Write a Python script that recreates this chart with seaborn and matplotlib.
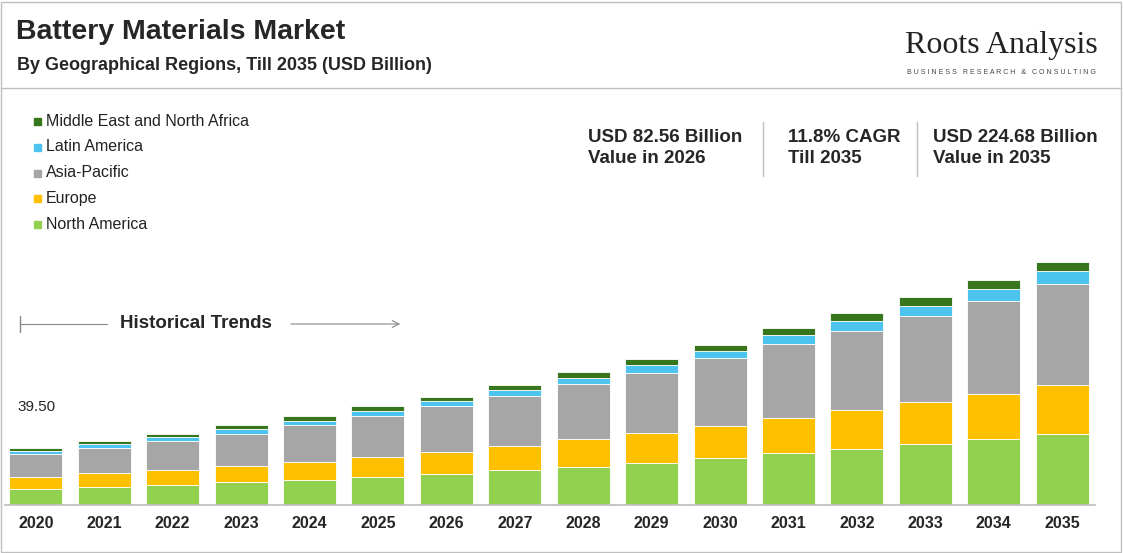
import numpy as np
import pandas as pd
import matplotlib
matplotlib.use("Agg")
import matplotlib.pyplot as plt
import seaborn as sns

years = [str(y) for y in range(2020, 2036)]
# segment values (USD Billion)
north_america = [14.8, 16.6, 18.5, 21.3, 23.1, 25.9, 28.7, 32.4, 35.1, 38.8, 43.5, 48.1, 51.8, 56.4, 61.0, 65.6]
europe = [11.1, 12.9, 13.9, 14.8, 16.6, 18.5, 20.3, 22.2, 25.9, 27.7, 29.6, 32.4, 36.1, 38.8, 41.6, 45.3]
asia_pacific = [21.3, 23.1, 26.8, 29.6, 34.2, 37.9, 42.5, 46.2, 50.9, 55.5, 62.9, 68.4, 73.0, 79.5, 86.0, 93.4]
latin_america = [2.8, 3.7, 3.7, 4.6, 3.7, 4.6, 4.6, 5.5, 5.5, 7.4, 6.5, 8.3, 9.2, 9.2, 11.1, 12.0]
mena = [2.8, 2.8, 2.8, 3.7, 4.6, 4.6, 3.7, 4.6, 5.5, 5.5, 5.5, 6.5, 7.4, 8.3, 8.3, 8.3]

series = [("North America", north_america, "#92d050"),
          ("Europe", europe, "#ffc000"),
          ("Asia-Pacific", asia_pacific, "#a6a6a6"),
          ("Latin America", latin_america, "#4dc3f0"),
          ("Middle East and North Africa", mena, "#38761d")]

sns.set_theme(style="white")
plt.rcParams['font.family'] = ['Liberation Sans', 'DejaVu Sans']

W, H = 1123, 553
fig = plt.figure(figsize=(W / 100, H / 100), dpi=100)

# outer border and header line
fig.add_artist(plt.Rectangle((1 / W, 1 / H), (W - 3) / W, (H - 3) / H, transform=fig.transFigure,
                             fill=False, edgecolor="#bfbfbf", lw=1))
fig.add_artist(plt.Line2D([1 / W, (W - 2) / W], [1 - 88 / H] * 2, color="#bfbfbf", lw=1))

ax = fig.add_axes([5 / W, 48 / H, 1090 / W, 405 / H])
k = 224.68 / 243
bottom = np.zeros(len(years))
for name, vals, col in series:
    sns.barplot(x=years, y=vals, bottom=bottom, color=col, width=0.775, ax=ax,
                saturation=1, edgecolor="white", linewidth=0.6)
    bottom += np.array(vals)
ax.set_ylim(0, 405 * k)
ax.set_xlim(-0.45, 15.48)
ax.set_yticks([])
ax.set_xlabel("")
ax.set_ylabel("")
for s in ["top", "right", "left"]:
    ax.spines[s].set_visible(False)
ax.spines["bottom"].set_color("#bfbfbf")
ax.tick_params(axis="x", length=0, labelsize=11.5, pad=8)
for t in ax.get_xticklabels():
    t.set_fontweight("bold")

def fy(y):
    return 1 - y / H

def fx(x):
    return x / W

fig.text(fx(16), fy(32), "Battery Materials Market", fontsize=20.5, fontweight="bold", va="center")
fig.text(fx(17), fy(66), "By Geographical Regions, Till 2035 (USD Billion)", fontsize=13,
         fontweight="bold", va="center")
fig.text(fx(1001), fy(45), "Roots Analysis", fontsize=23, family=["Liberation Serif", "DejaVu Serif"],
         ha="center", va="center", color="#222222")
fig.text(fx(1001), fy(72), " ".join("BUSINESS RESEARCH & CONSULTING"), fontsize=5, ha="center",
         va="center", color="#444444")

# legend
leg = list(reversed(series))
for i, (name, _, col) in enumerate(leg):
    y = 121 + i * 25.8
    fig.add_artist(plt.Rectangle((fx(34), fy(y + 4)), 7 / W, 7 / H, transform=fig.transFigure,
                                 color=col))
    fig.text(fx(46), fy(y), name, fontsize=11.5, va="center", color="#222222")

# key stats
stats = [(588, "USD 82.56 Billion\nValue in 2026"), (788, "11.8% CAGR\nTill 2035"),
         (933, "USD 224.68 Billion\nValue in 2035")]
for x, s in stats:
    fig.text(fx(x), fy(148), s, fontsize=13.5, fontweight="bold", va="center", linespacing=1.3)
for x in [763, 917]:
    fig.add_artist(plt.Line2D([fx(x)] * 2, [fy(122), fy(176)], color="#bfbfbf", lw=1))

fig.text(fx(17), fy(407), "39.50", fontsize=11, va="center")
fig.add_artist(plt.Line2D([fx(20)] * 2, [fy(316), fy(332)], color="#888888", lw=1))
fig.add_artist(plt.Line2D([fx(20), fx(107)], [fy(324)] * 2, color="#888888", lw=0.8))
fig.text(fx(196), fy(324), "Historical Trends", fontsize=13.5, fontweight="bold", ha="center", va="center")
ax.annotate("", xy=(fx(403), fy(324)), xytext=(fx(288), fy(324)), xycoords="figure fraction",
            arrowprops=dict(arrowstyle="->", color="#888888", lw=0.8))

fig.savefig("out.png", dpi=100)
